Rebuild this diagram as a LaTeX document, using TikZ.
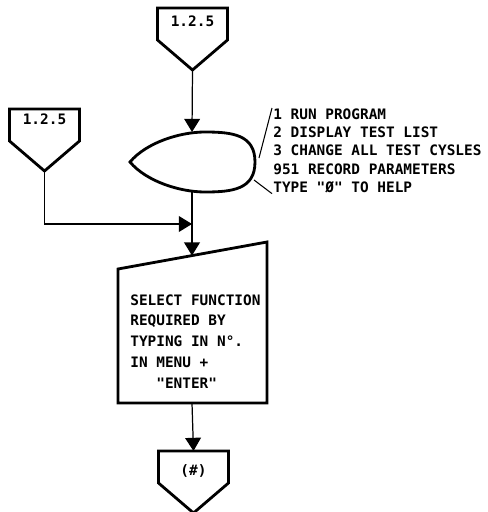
\documentclass[tikz,border=0pt]{standalone}
\usepackage{fontspec}
\setmonofont{DejaVu Sans Mono}
\usetikzlibrary{arrows.meta,calc}
\tikzset{
  shapeline/.style={draw=black,line width=1.6pt,line join=miter},
  flowline/.style={-{Triangle[width=9pt,length=7.5pt]},draw=black,line width=0.7pt},
  noteline/.style={draw=black,line width=0.6pt},
  flowtext/.style={inner sep=0pt,align=left,font=\ttfamily\bfseries\fontsize{8.2}{10.5}\selectfont}
}
% off-page connector: name, x, top y, label drop, label
\newcommand{\offpage}[5]{%
  \draw[shapeline] (#2-35,#3) -- (#2+35,#3) -- (#2+35,#3-32) -- (#2,#3-62) -- (#2-35,#3-32) -- cycle;
  \node[flowtext] (#1) at (#2,#3-#4) {#5};
  \coordinate (#1-top) at (#2,#3);
  \coordinate (#1-tip) at (#2,#3-62);
}

\begin{document}
\begin{tikzpicture}[x=0.02cm,y=0.02cm]
  \useasboundingbox (0,0) rectangle (488,512);
  % connectors
  \offpage{ctop}{192.5}{504}{13}{1.2.5}
  \offpage{cleft}{44.5}{403}{10}{1.2.5}
  \offpage{cbot}{193.5}{61}{20}{(\#)}
  % menu display
  \draw[shapeline] (130,350) to[out=50,in=180,looseness=0.8] (205,380)
    to[out=0,in=90,looseness=1.2] (255,350)
    to[out=-90,in=0,looseness=1.2] (205,320) to[out=180,in=-50,looseness=0.8] cycle;
  \coordinate (egg-n) at (192,380);
  \coordinate (egg-s) at (192,320);
  \coordinate (egg-ne) at (259,354);
  \coordinate (egg-se) at (254,332);
  \node[flowtext,anchor=north west] (menu) at (273,404)
    {1 RUN PROGRAM\\2 DISPLAY TEST LIST\\3 CHANGE ALL TEST CYSLES\\951 RECORD PARAMETERS\\TYPE "Ø" TO HELP};
  \draw[noteline] (egg-ne) -- ($(menu.north west)+(-1,0)$);
  \draw[noteline] (egg-se) -- ($(menu.south west)+(-1,0)$);
  % manual input
  \draw[shapeline] (118,109) -- (118,243) -- (267,270) -- (267,109) -- cycle;
  \coordinate (sel-n) at (192,256.4);
  \coordinate (sel-s) at (192,109);
  \node[flowtext,anchor=north west,font=\ttfamily\bfseries\fontsize{8.2}{11.9}\selectfont] (select) at (130,218)
    {SELECT FUNCTION\\REQUIRED BY\\TYPING IN N°.\\IN MENU +\\\ \ \ "ENTER"};
  % flow
  \coordinate (join) at (192,288);
  \coordinate (bend) at (44.5,288);
  \draw[flowline] (ctop-tip) -- (egg-n);
  \draw[flowline] (egg-s) -- (sel-n);
  \draw[flowline] (cleft-tip) -- (bend) -- (join);
  \draw[flowline] (sel-s) -- (cbot-top);
\end{tikzpicture}
\end{document}
